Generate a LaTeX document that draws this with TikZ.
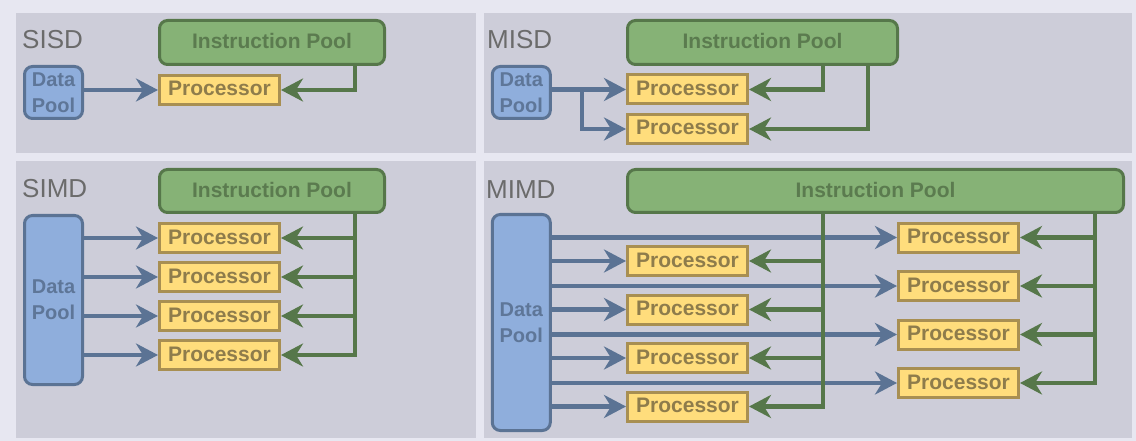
\documentclass[tikz,border=0pt]{standalone}
\usepackage{fontspec}
\setmainfont{Liberation Sans}
\usetikzlibrary{arrows.meta}

\definecolor{outerbg}{HTML}{E7E7F1}
\definecolor{panelbg}{HTML}{CDCDD9}
\definecolor{ipfill}{HTML}{86B276}
\definecolor{ipdraw}{HTML}{56774A}
\definecolor{iptext}{HTML}{5B7B4F}
\definecolor{dpfill}{HTML}{8FAEDC}
\definecolor{dpdraw}{HTML}{5B7394}
\definecolor{dptext}{HTML}{5E7698}
\definecolor{prfill}{HTML}{FFDD7C}
\definecolor{prdraw}{HTML}{A88F52}
\definecolor{prtext}{HTML}{8E7C4B}
\definecolor{lbltext}{HTML}{6B6B6B}

\tikzset{
  panel/.style={fill=panelbg, draw=none},
  ipool/.style={draw=ipdraw, fill=ipfill, line width=3pt, rounded corners=8pt,
    text=iptext, font=\bfseries\fontsize{21}{24}\selectfont, inner sep=0pt,
    text height=15pt, text depth=3pt, minimum height=44pt},
  dpool/.style={draw=dpdraw, fill=dpfill, line width=3pt, rounded corners=8pt,
    text=dptext, font=\bfseries\fontsize{20}{26}\selectfont, align=center,
    inner sep=0pt, minimum width=58pt},
  proc/.style={draw=prdraw, fill=prfill, line width=3pt, text=prtext,
    font=\bfseries\fontsize{21}{24}\selectfont, inner sep=0pt,
    text height=15pt, text depth=3pt,
    minimum width=120pt, minimum height=29pt},
  mode/.style={text=lbltext, font=\fontsize{26}{30}\selectfont,
    anchor=base west, inner sep=0pt},
  tip/.style={-{Stealth[length=22pt,width=23pt,inset=7pt]}},
  dflow/.style={draw=dpdraw, line width=4.2pt, tip},
  iflow/.style={draw=ipdraw, line width=4.2pt, tip},
}

\begin{document}
\begin{tikzpicture}[x=1pt,y=-1pt]
  \useasboundingbox (0,0) rectangle (1136,441);
  \fill[outerbg] (0,0) rectangle (1136,441);

  % four quadrants
  \fill[panel] (16,13) rectangle (476,153);
  \fill[panel] (484,13) rectangle (1132,153);
  \fill[panel] (16,161) rectangle (476,438);
  \fill[panel] (484,161) rectangle (1132,438);

  % ---------- SISD ----------
  \node[mode] (sisd-lbl) at (22,49) {SISD};
  \node[ipool, minimum width=225pt] (sisd-ip) at (272,42.5) {Instruction Pool};
  \node[dpool, minimum height=52pt] (sisd-dp) at (53.5,92.5) {Data\\Pool};
  \node[proc] (sisd-p) at (219.5,90) {Processor};
  \coordinate (sisd-tap) at (355,0);
  \draw[dflow] (sisd-dp.east |- sisd-p) -- (sisd-p.west);
  \draw[iflow] (sisd-tap |- sisd-ip.south) |- (sisd-p.east);

  % ---------- MISD ----------
  \node[mode] (misd-lbl) at (487,49) {MISD};
  \node[ipool, minimum width=270pt] (misd-ip) at (762.5,42.5) {Instruction Pool};
  \node[dpool, minimum height=52pt] (misd-dp) at (521.3,92.5) {Data\\Pool};
  \node[proc] (misd-p1) at (687.5,89.5) {Processor};
  \node[proc] (misd-p2) at (687.5,129) {Processor};
  \coordinate (misd-fork) at (582,0);
  \coordinate (misd-tap1) at (823,0);
  \coordinate (misd-tap2) at (868,0);
  \draw[dflow] (misd-dp.east |- misd-p1) -- (misd-p1.west);
  \draw[dflow] (misd-fork |- misd-p1) |- (misd-p2.west);
  \draw[iflow] (misd-tap1 |- misd-ip.south) |- (misd-p1.east);
  \draw[iflow] (misd-tap2 |- misd-ip.south) |- (misd-p2.east);

  % ---------- SIMD ----------
  \node[mode] (simd-lbl) at (22,197) {SIMD};
  \node[ipool, minimum width=225pt, minimum height=43pt] (simd-ip) at (272,191) {Instruction Pool};
  \node[dpool, minimum height=169pt] (simd-dp) at (53.5,300) {Data\\Pool};
  \coordinate (simd-tap) at (355,0);
  \foreach \i/\y in {1/238,2/277,3/316,4/355}{
    \node[proc] (simd-p\i) at (219.5,\y) {Processor};
    \draw[dflow] (simd-dp.east |- simd-p\i) -- (simd-p\i.west);
    \draw[iflow] (simd-tap |- simd-ip.south) |- (simd-p\i.east);
  }

  % ---------- MIMD ----------
  \node[mode] (mimd-lbl) at (486,198) {MIMD};
  \node[ipool, minimum width=496pt, minimum height=43pt] (mimd-ip) at (875.5,191) {Instruction Pool};
  \node[dpool, minimum height=216pt] (mimd-dp) at (521.3,322.5) {Data\\Pool};
  \coordinate (mimd-tapL) at (823,0);
  \coordinate (mimd-tapR) at (1095,0);
  \foreach \i/\y in {1/261,2/309.5,3/358,4/406.5}{
    \node[proc] (mimd-l\i) at (687.5,\y) {Processor};
  }
  \foreach \i/\y in {1/237.5,2/286,3/334.5,4/383}{
    \node[proc] (mimd-r\i) at (958.5,\y) {Processor};
  }
  \foreach \i in {1,...,4}{
    \draw[dflow] (mimd-dp.east |- mimd-l\i) -- (mimd-l\i.west);
    \draw[dflow] (mimd-dp.east |- mimd-r\i) -- (mimd-r\i.west);
  }
  \foreach \i in {1,...,4}{
    \draw[iflow] (mimd-tapL |- mimd-ip.south) |- (mimd-l\i.east);
    \draw[iflow] (mimd-tapR |- mimd-ip.south) |- (mimd-r\i.east);
  }
\end{tikzpicture}
\end{document}
